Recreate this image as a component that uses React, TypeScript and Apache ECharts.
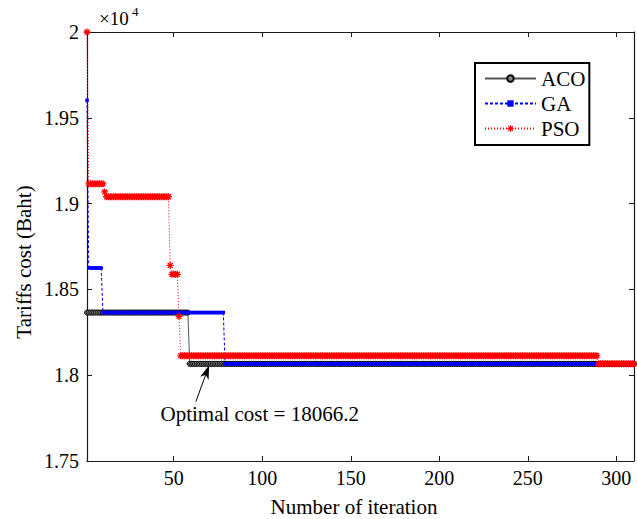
import React, { useEffect, useRef } from "react";
import * as echarts from "echarts";

// ---- data ----
const lastIteration = 310;
// each series is a run-length list: value holds from start[k] until start[k+1]-1
const acoStarts = [1, 59];
const acoValues = [18365, 18066.2];
const gaStarts = [1, 2, 10, 79];
const gaValues = [19602, 18625, 18365, 18066.2];
const psoStarts = [1, 2, 11, 12, 48, 49, 53, 54, 290];
const psoValues = [20000, 19115, 19068, 19040, 18640, 18588, 18343, 18113, 18066.2];

const seriesNames = ["ACO", "GA", "PSO"];
const xTicks = [50, 100, 150, 200, 250, 300];
const yMin = 17500;
const yMax = 20000;
const yStep = 500;

const xTitle = "Number of iteration";
const yTitle = "Tariffs cost (Baht)";
const annotation = "Optimal cost = 18066.2";
const arrowTip = [70, 18058];
const arrowTail = [62.5, 17846];
const annotationAnchor = [42.5, 17772];

const FONT = "'Liberation Serif', 'Times New Roman', serif";

function expandRuns(starts: number[], values: number[], last: number): number[][] {
  const out: number[][] = [];
  for (let k = 0; k < starts.length; k++) {
    const end = k + 1 < starts.length ? starts[k + 1] - 1 : last;
    for (let i = starts[k]; i <= end; i++) out.push([i, values[k]]);
  }
  return out;
}

const STAR =
  "path://M-5,-0.9L5,-0.9L5,0.9L-5,0.9Z" +
  "M-0.9,-5L0.9,-5L0.9,5L-0.9,5Z" +
  "M-2.9,-4.2L4.2,2.9L2.9,4.2L-4.2,-2.9Z" +
  "M-2.9,4.2L-4.2,2.9L2.9,-4.2L4.2,-2.9Z";

export default function App() {
  const ref = useRef<HTMLDivElement>(null);

  useEffect(() => {
    if (!ref.current) return;
    const chart = echarts.init(ref.current, undefined, { renderer: "svg" });
    const axisColor = "#1a1a1a";
    const xAxisBase = {
      type: "value",
      min: 1,
      max: lastIteration,
      axisLine: { show: true, onZero: false, lineStyle: { color: axisColor, width: 1.2 } },
      axisTick: { show: true, inside: true, length: 5, customValues: xTicks, lineStyle: { color: axisColor } },
      splitLine: { show: false },
    };
    const yAxisBase = {
      type: "value",
      min: yMin,
      max: yMax,
      interval: yStep,
      axisLine: { show: true, onZero: false, lineStyle: { color: axisColor, width: 1.2 } },
      axisTick: { show: true, inside: true, length: 5, lineStyle: { color: axisColor } },
      splitLine: { show: false },
    };
    chart.setOption({
      animation: false,
      backgroundColor: "#fff",
      grid: { left: 87, right: 3, top: 32, bottom: 58, outerBoundsMode: "none", containLabel: false },
      xAxis: [
        {
          ...xAxisBase,
          position: "bottom",
          axisLabel: { customValues: xTicks, margin: 7, fontFamily: FONT, fontSize: 20, color: "#000" },
        },
        { ...xAxisBase, position: "top", axisLabel: { show: false, customValues: xTicks } },
      ],
      yAxis: [
        {
          ...yAxisBase,
          position: "left",
          axisLabel: {
            margin: 8,
            fontFamily: FONT,
            fontSize: 20,
            color: "#000",
            formatter: (v: number) => String(parseFloat((v / 10000).toFixed(2))),
          },
        },
        { ...yAxisBase, position: "right", axisLabel: { show: false } },
      ],
      legend: {
        orient: "vertical",
        left: 475,
        top: 63,
        padding: [5, 4, 6, 9],
        itemWidth: 51,
        itemHeight: 8,
        itemGap: 4,
        backgroundColor: "#fff",
        borderColor: "#000",
        borderWidth: 2,
        borderRadius: 0,
        textStyle: { fontFamily: FONT, fontSize: 21, color: "#000" },
        data: seriesNames,
      },
      series: [
        {
          name: seriesNames[0],
          type: "line",
          data: expandRuns(acoStarts, acoValues, lastIteration),
          symbol: "circle",
          symbolSize: 5,
          lineStyle: { color: "#555", width: 1 },
          itemStyle: { color: "#888", borderColor: "#000", borderWidth: 1 },
          emphasis: { disabled: true },
          silent: true,
        },
        {
          name: seriesNames[1],
          type: "line",
          data: expandRuns(gaStarts, gaValues, lastIteration),
          symbol: "rect",
          symbolSize: 3.5,
          lineStyle: { color: "#0000ff", width: 1, type: [3, 2] },
          itemStyle: { color: "#0000ff" },
          emphasis: { disabled: true },
          silent: true,
        },
        {
          name: seriesNames[2],
          type: "line",
          data: expandRuns(psoStarts, psoValues, lastIteration),
          symbol: STAR,
          symbolSize: 7,
          lineStyle: { color: "#ff0000", width: 1, type: [1, 2] },
          itemStyle: { color: "#ff0000" },
          emphasis: { disabled: true },
          silent: true,
        },
      ],
    });

    const tip = chart.convertToPixel({ gridIndex: 0 }, arrowTip) as number[];
    const tail = chart.convertToPixel({ gridIndex: 0 }, arrowTail) as number[];
    const textPos = chart.convertToPixel({ gridIndex: 0 }, annotationAnchor) as number[];
    const dx = tip[0] - tail[0];
    const dy = tip[1] - tail[1];
    const len = Math.sqrt(dx * dx + dy * dy);
    const ux = dx / len;
    const uy = dy / len;
    const nx = -uy;
    const ny = ux;
    const headLen = 14;
    const halfW = 4.5;
    const bx = tip[0] - ux * headLen;
    const by = tip[1] - uy * headLen;
    const notchX = tip[0] - ux * (headLen - 4);
    const notchY = tip[1] - uy * (headLen - 4);

    chart.setOption({
      graphic: [
        { type: "text", left: 99, top: 9, style: { text: "×10", fontFamily: FONT, fontSize: 19, fill: "#000" }, silent: true },
        { type: "text", left: 132, top: 5, style: { text: "4", fontFamily: FONT, fontSize: 13, fill: "#000" }, silent: true },
        {
          type: "text",
          x: 24,
          y: 262,
          rotation: Math.PI / 2,
          style: { text: yTitle, fontFamily: FONT, fontSize: 21, fill: "#000", align: "center", verticalAlign: "middle" },
          silent: true,
        },
        {
          type: "text",
          x: 354,
          y: 507,
          style: { text: xTitle, fontFamily: FONT, fontSize: 21, fill: "#000", align: "center", verticalAlign: "middle" },
          silent: true,
        },
        {
          type: "text",
          x: textPos[0],
          y: textPos[1],
          style: { text: annotation, fontFamily: FONT, fontSize: 21, fill: "#000", align: "left", verticalAlign: "middle" },
          silent: true,
        },
        {
          type: "line",
          shape: { x1: tail[0], y1: tail[1], x2: notchX, y2: notchY },
          style: { stroke: "#000", lineWidth: 1 },
          silent: true,
        },
        {
          type: "polygon",
          shape: {
            points: [
              [tip[0], tip[1]],
              [bx + nx * halfW, by + ny * halfW],
              [notchX, notchY],
              [bx - nx * halfW, by - ny * halfW],
            ],
          },
          style: { fill: "#000" },
          silent: true,
        },
      ],
    });

    return () => chart.dispose();
  }, []);

  return (
    <div
      ref={ref}
      style={{ position: "fixed", left: 0, top: 0, width: 637, height: 519, background: "#fff" }}
    />
  );
}
